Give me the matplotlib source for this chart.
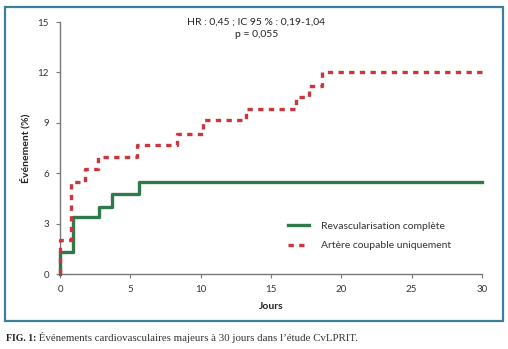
import matplotlib
matplotlib.use("Agg")
import matplotlib.pyplot as plt
from matplotlib.patches import Rectangle

plt.rcParams["font.family"] = ["Lato", "DejaVu Sans"]

# Kaplan-Meier step data (days, cumulative events %)
complete_days = [0, 0, 0.9, 2.8, 3.7, 5.6, 30]
complete_pct = [0, 1.3, 3.4, 4.0, 4.75, 5.45, 5.45]

culprit_days = [0, 0, 0.8, 1.8, 2.7, 5.5, 8.3, 10.2, 13.2, 16.8, 17.7, 18.6, 30]
culprit_pct = [0, 2.0, 5.5, 6.25, 6.95, 7.65, 8.35, 9.15, 9.8, 10.55, 11.2, 12.05, 12.05]

x_ticks = [0, 5, 10, 15, 20, 25, 30]
y_ticks = [0, 3, 6, 9, 12, 15]

labels = ["Revascularisation complète", "Artère coupable uniquement"]
stats_text = "HR : 0,45 ; IC 95 % : 0,19-1,04\np = 0,055"
caption = "Événements cardiovasculaires majeurs à 30 jours dans l’étude CvLPRIT."

W, H = 508, 349
fig = plt.figure(figsize=(W / 100, H / 100), dpi=100)

# outer frame
fig.patches.append(Rectangle((5 / W, 1 - 321 / H), 498 / W, 314 / H,
                             transform=fig.transFigure, fill=False,
                             edgecolor="#3f7f9a", linewidth=1.6))

ax = fig.add_axes([60 / W, 1 - 274 / H, 422 / W, 252 / H])
green = "#2e7a4a"
red = "#c8363f"

ax.plot(complete_days, complete_pct, drawstyle="steps-post", color=green,
        lw=2.4, clip_on=False, label=labels[0], zorder=3)
ax.plot(culprit_days, culprit_pct, drawstyle="steps-post", color=red,
        lw=2.4, ls=(0, (1.6, 1.6)), clip_on=False, label=labels[1], zorder=4)

ax.set_xlim(0, 30)
ax.set_ylim(0, 15)
ax.set_xticks(x_ticks)
ax.set_yticks(y_ticks)
for s in ["top", "right"]:
    ax.spines[s].set_visible(False)
for s in ["left", "bottom"]:
    ax.spines[s].set_color("#777777")
    ax.spines[s].set_linewidth(1.0)
ax.tick_params(colors="#777777", labelcolor="#333333", labelsize=7,
               length=3, width=0.8, pad=5)

ax.set_xlabel("Jours", fontsize=7.5, fontweight="bold", color="#222222", labelpad=6)
ax.set_ylabel("Événement (%)", fontsize=7.5, fontweight="bold", color="#222222", labelpad=5)

ax.text(0.465, 1.018, stats_text, transform=ax.transAxes, ha="center", va="top",
        fontsize=7.5, color="#222222", linespacing=1.5)

ax.legend(loc="upper left", bbox_to_anchor=(279 / W, 1 - 212 / H),
          bbox_transform=fig.transFigure, frameon=False, fontsize=7.5,
          handlelength=2.0, handletextpad=1.1, labelspacing=1.0,
          labelcolor="#333333")

# caption below the frame
t = fig.text(6 / W, 1 - 341 / H, "FIG. 1:", fontsize=7, fontweight="bold",
             color="#222222", family=["Liberation Serif", "DejaVu Serif"])
ax.annotate(" " + caption, xy=(1, 0), xycoords=t, xytext=(0, 0),
            textcoords="offset points", va="bottom", ha="left", fontsize=7.8,
            color="#333333", family=["Liberation Serif", "DejaVu Serif"],
            annotation_clip=False)

fig.savefig("out.png", dpi=100)
